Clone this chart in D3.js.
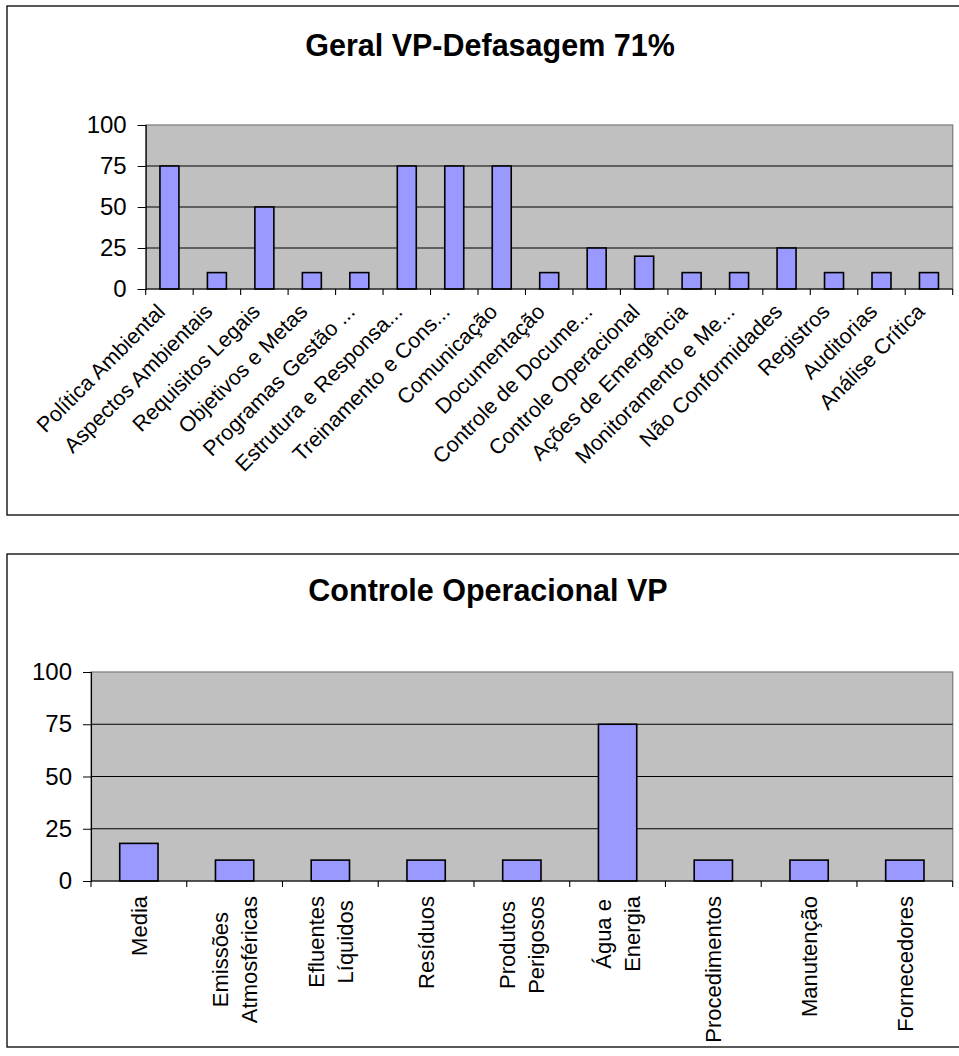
<!DOCTYPE html>
<html>
<head>
<meta charset="utf-8">
<script src="https://cdn.jsdelivr.net/npm/d3@7"></script>
<style>
  html, body { margin: 0; padding: 0; background: #fff; }
  svg { display: block; font-family: "Liberation Sans", Arial, sans-serif; }
</style>
</head>
<body>
<svg id="chart" width="959" height="1056"></svg>
<script>
// ---- data ----
const title1 = "Geral VP-Defasagem 71%";
const categories1 = ["Política Ambiental","Aspectos Ambientais","Requisitos Legais","Objetivos e Metas","Programas Gestão ...","Estrutura e Responsa...","Treinamento e Cons...","Comunicação","Documentação","Controle de Docume...","Controle Operacional","Ações de Emergência","Monitoramento e Me...","Não Conformidades","Registros","Auditorias","Análise Crítica"];
const values1 = [75,10,50,10,10,75,75,75,10,25,20,10,10,25,10,10,10];

const title2 = "Controle Operacional VP";
const categories2 = ["Media","Emissões\nAtmosféricas","Efluentes\nLíquidos","Resíduos","Produtos\nPerigosos","Água e\nEnergia","Procedimentos","Manutenção","Fornecedores"];
const values2 = [18,10,10,10,10,75,10,10,10];

const yTicks = [0,25,50,75,100];

// ---- drawing ----
const svg = d3.select("#chart");

function drawChart(cfg) {
  const g = svg.append("g");
  // frame
  g.append("rect").attr("x", cfg.frame[0]).attr("y", cfg.frame[1])
    .attr("width", cfg.frame[2]).attr("height", cfg.frame[3])
    .attr("fill", "#fff").attr("stroke", "#000").attr("stroke-width", 1.3);
  // title
  g.append("text").attr("x", cfg.titleX).attr("y", cfg.titleY)
    .attr("text-anchor", "middle").attr("font-weight", "bold")
    .attr("font-size", 30.5).attr("fill", "#000").text(cfg.title);

  const p = cfg.plot;
  const x = d3.scaleBand().domain(cfg.categories).range([p.left, p.right]).padding(0);
  const y = d3.scaleLinear().domain([0, 100]).range([p.bottom, p.top]);

  // plot background
  g.append("rect").attr("x", p.left).attr("y", p.top)
    .attr("width", p.right - p.left).attr("height", p.bottom - p.top)
    .attr("fill", "#C0C0C0").attr("stroke", "#808080").attr("stroke-width", 1.3);

  // gridlines
  g.selectAll(".grid").data(yTicks.filter(t => t > 0 && t < 100)).enter()
    .append("line").attr("x1", p.left).attr("x2", p.right)
    .attr("y1", d => y(d)).attr("y2", d => y(d))
    .attr("stroke", "#000").attr("stroke-width", 1.1);

  // bars
  const bw = x.bandwidth();
  g.selectAll(".bar").data(cfg.categories.map((c, i) => ({c, v: cfg.values[i]}))).enter()
    .append("rect")
    .attr("x", d => x(d.c) + bw * 0.3)
    .attr("width", bw * 0.4)
    .attr("y", d => y(d.v))
    .attr("height", d => y(0) - y(d.v))
    .attr("fill", "#9999FF").attr("stroke", "#000").attr("stroke-width", 1.6);

  // y axis
  const yAxis = d3.axisLeft(y).tickValues(yTicks).tickSize(8).tickPadding(11);
  const ya = g.append("g").attr("transform", `translate(${p.left},0)`).call(yAxis);
  ya.select(".domain").attr("stroke", "#000").attr("stroke-width", 1.1);
  ya.selectAll(".tick line").attr("stroke", "#000");
  ya.selectAll(".tick text").attr("font-size", 24).attr("fill", "#000")
    .attr("font-family", "'Liberation Sans', Arial, sans-serif");

  // x axis line + ticks at category boundaries
  g.append("line").attr("x1", p.left).attr("x2", p.right)
    .attr("y1", p.bottom).attr("y2", p.bottom).attr("stroke", "#000").attr("stroke-width", 1.1);
  const bounds = cfg.categories.map(c => x(c)).concat([p.right]);
  g.selectAll(".xt").data(bounds).enter().append("line")
    .attr("x1", d => d).attr("x2", d => d)
    .attr("y1", p.bottom).attr("y2", p.bottom + 6)
    .attr("stroke", "#000").attr("stroke-width", 1.1);

  // category labels
  if (cfg.rotate === -45) {
    g.selectAll(".xl").data(cfg.categories).enter().append("text")
      .attr("text-anchor", "end").attr("font-size", 21.5).attr("fill", "#000")
      .attr("transform", d => `translate(${x(d) + bw / 2 - 3},${p.bottom + 24}) rotate(-45)`)
      .text(d => d);
  } else {
    cfg.categories.forEach(c => {
      const lines = c.split("\n");
      const cx = x(c) + bw / 2;
      const lg = g.append("g");
      const texts = lines.map((ln, i) => lg.append("text")
        .attr("font-size", 22).attr("fill", "#000").attr("text-anchor", "middle").text(ln));
      const maxW = d3.max(texts, t => t.node().getComputedTextLength());
      const spacing = 29;
      const n = lines.length;
      texts.forEach((t, i) => {
        const bx = cx + (i - (n - 1) / 2) * spacing + 8;
        const cy = p.bottom + 15 + maxW / 2;
        t.attr("transform", `translate(${bx},${cy}) rotate(-90)`);
      });
    });
  }
}

drawChart({
  frame: [7, 6, 970, 509],
  title: title1, titleX: 490, titleY: 56,
  categories: categories1, values: values1,
  plot: {left: 145.7, right: 952.7, top: 125, bottom: 289},
  rotate: -45
});

drawChart({
  frame: [7, 554, 970, 493],
  title: title2, titleX: 488, titleY: 601,
  categories: categories2, values: values2,
  plot: {left: 91, right: 952.7, top: 672, bottom: 881},
  rotate: -90
});
</script>
</body>
</html>
